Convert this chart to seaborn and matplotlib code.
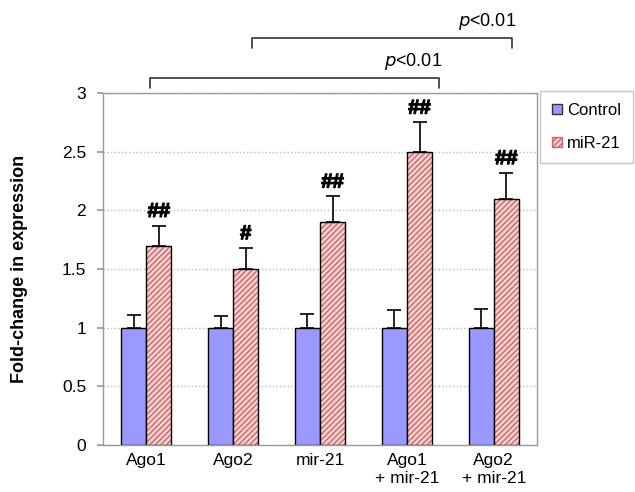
import pandas as pd
import matplotlib.pyplot as plt
import matplotlib.patheffects as pe
import seaborn as sns
from matplotlib.patches import Rectangle, Patch

groups = ["Ago1", "Ago2", "mir-21", "Ago1\n+ mir-21", "Ago2\n+ mir-21"]
control = [1.0, 1.0, 1.0, 1.0, 1.0]
control_err = [0.11, 0.10, 0.12, 0.15, 0.16]
mir21 = [1.7, 1.5, 1.9, 2.5, 2.1]
mir21_err = [0.17, 0.18, 0.22, 0.25, 0.22]
marks = ["##", "#", "##", "##", "##"]

sns.set_theme(style="white")
plt.rcParams["font.family"] = ["Liberation Sans", "DejaVu Sans"]
plt.rcParams["text.color"] = "black"
plt.rcParams["axes.labelcolor"] = "black"
plt.rcParams["xtick.color"] = "black"
plt.rcParams["ytick.color"] = "black"

df = pd.DataFrame({
    "group": groups * 2,
    "value": control + mir21,
    "err": control_err + mir21_err,
    "treatment": ["Control"] * 5 + ["miR-21"] * 5,
})

fig = plt.figure(figsize=(6.35, 4.92), dpi=100)
ax = fig.add_axes([0.162, 0.0955, 0.684, 0.7155])

blue = "#9999ff"
pink = "#f6d0d0"
hatch_col = "#c86a6a"
sns.barplot(data=df, x="group", y="value", hue="treatment", order=groups,
            palette={"Control": blue, "miR-21": pink}, width=0.58, gap=0,
            saturation=1, errorbar=None, legend=False, ax=ax,
            edgecolor="black", linewidth=1)

n = len(groups)
for i, p in enumerate(ax.patches[:2 * n]):
    err = df["err"].iloc[i]
    x = p.get_x() + p.get_width() / 2
    top = p.get_height()
    ax.errorbar(x, top, yerr=[[0], [err]], fmt="none", ecolor="black",
                elinewidth=1.2, capsize=5, capthick=1.2, zorder=3)
    if i >= n:
        p.set_hatch("//////")
        p.set_edgecolor(hatch_col)
        p.set_linewidth(0)
        ax.add_patch(Rectangle((p.get_x(), 0), p.get_width(), top, fill=False,
                               edgecolor="black", linewidth=1, zorder=2.5))
        ax.text(x, top + err + 0.04, marks[i - n], ha="center", va="bottom",
                fontsize=14.5, fontweight="bold",
                path_effects=[pe.withStroke(linewidth=0.9, foreground="black")])

ax.set_ylim(0, 3)
ax.set_xlim(-0.5, n - 0.5)
ax.set_yticks([0, 0.5, 1, 1.5, 2, 2.5, 3])
ax.set_yticklabels(["0", "0.5", "1", "1.5", "2", "2.5", "3"])
ax.yaxis.grid(True, linestyle=":", color="#bbbbbb", linewidth=1)
ax.set_axisbelow(True)
for s in ax.spines.values():
    s.set_color("#999999")
    s.set_linewidth(1)
ax.tick_params(axis="both", labelsize=12.5, length=0, pad=6)
ax.tick_params(axis="y", length=4, color="#999999", left=True, pad=8)
ax.set_xlabel("")
ax.set_ylabel("Fold-change in expression", fontsize=13, fontweight="bold", labelpad=24)

# significance brackets
def bracket(x0, x1, y, h, tx):
    ax.plot([x0, x0, x1, x1], [y - h, y, y, y - h], color="#333333", lw=1.2,
            clip_on=False)
    ax.text(tx, y + 0.05, r"$\it{p}$<0.01", ha="center", va="bottom",
            fontsize=13, clip_on=False)

bracket(0.04, 3.37, 3.13, 0.09, 3.07)
bracket(1.22, 4.21, 3.47, 0.09, 3.92)

handles = [Patch(facecolor=blue, edgecolor="#333333", label="Control"),
           Patch(facecolor=pink, edgecolor=hatch_col, hatch="//////", label="miR-21")]
leg = fig.legend(handles=handles, loc="upper left", bbox_to_anchor=(0.851, 0.815),
                 frameon=True, fancybox=False, fontsize=12, handlelength=0.6,
                 handleheight=0.6, handletextpad=0.3, labelspacing=1.1,
                 borderpad=0.7, borderaxespad=0)
leg.get_frame().set_edgecolor("#bbbbbb")
leg.get_frame().set_linewidth(1)

fig.savefig("out.png", dpi=100)
